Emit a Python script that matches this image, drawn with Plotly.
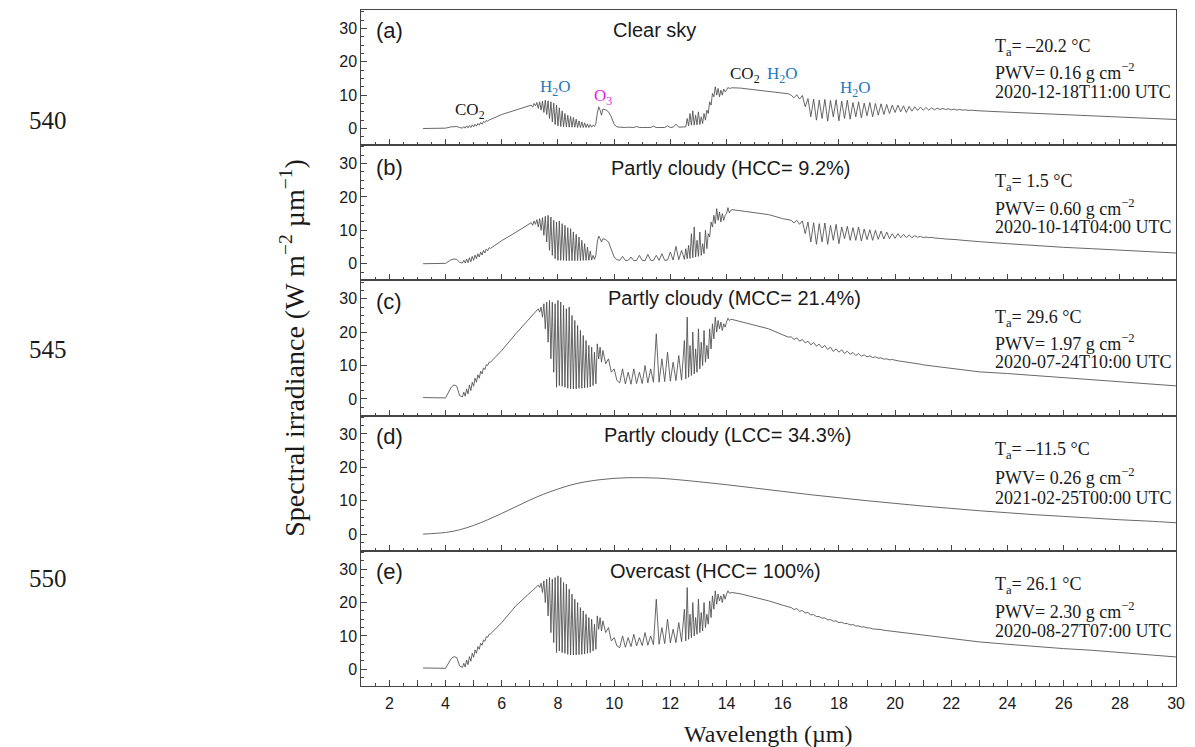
import plotly.graph_objects as go

# ---------------- data ----------------
# common wavelength grid (µm) for panels a, b, c, e
wl = [
    3.2, 3.6, 4.0, 4.2, 4.3, 4.4, 4.5, 4.6,
    4.65, 4.7, 4.75, 4.8, 4.85, 4.9, 4.95, 5.0, 5.05, 5.1, 5.15, 5.2, 5.25, 5.3, 5.35, 5.4, 5.45, 5.5, 5.55, 5.6,
    6.0, 6.5, 7.0,
    7.05, 7.1, 7.15, 7.2, 7.25, 7.3, 7.35, 7.4, 7.45, 7.5,
    7.55, 7.6, 7.65, 7.7, 7.75, 7.8, 7.85, 7.9, 7.95, 8.0,
    8.05, 8.1, 8.15, 8.2, 8.25, 8.3, 8.35, 8.4, 8.45, 8.5,
    8.55, 8.6, 8.65, 8.7, 8.75, 8.8, 8.85, 8.9, 8.95, 9.0,
    9.05, 9.1, 9.15, 9.2, 9.25, 9.3,
    9.35, 9.4, 9.45, 9.5, 9.55, 9.6, 9.7, 9.8, 9.9, 10.0, 10.1, 10.2,
    10.3, 10.4, 10.5, 10.6, 10.7, 10.8, 10.9, 11.0, 11.1, 11.2, 11.3, 11.4, 11.5, 11.6, 11.7, 11.8, 11.9, 12.0,
    12.1, 12.2, 12.3, 12.4, 12.5,
    12.55, 12.6, 12.65, 12.7, 12.75, 12.8, 12.85, 12.9, 12.95, 13.0,
    13.05, 13.1, 13.15, 13.2, 13.25, 13.3, 13.35, 13.4, 13.45, 13.5,
    13.55, 13.6, 13.65, 13.7, 13.75, 13.8, 13.85, 13.9, 13.95, 14.0,
    14.05, 14.1, 14.15, 14.2,
    14.5, 15.0, 15.5, 16.0, 16.2,
    16.3, 16.4, 16.5, 16.6, 16.7, 16.8, 16.9, 17.0, 17.1, 17.2,
    17.3, 17.4, 17.5, 17.6, 17.7, 17.8, 17.9, 18.0, 18.1, 18.2,
    18.3, 18.4, 18.5, 18.6, 18.7, 18.8, 18.9, 19.0, 19.1, 19.2,
    19.3, 19.4, 19.5, 19.6, 19.7, 19.8, 19.9, 20.0, 20.1, 20.2,
    20.3, 20.4, 20.5, 20.6, 20.7, 20.8, 20.9, 21.0, 21.1, 21.2,
    21.3, 21.4, 21.5, 21.6, 21.7, 21.8, 21.9, 22.0, 22.1, 22.2,
    22.3, 22.4, 22.5, 22.6, 22.7, 22.8, 22.9, 23.0,
    24.0, 25.0, 26.0, 27.0, 28.0, 29.0, 30.0,
]

# (a) Clear sky
irr_a = [
    0.0, 0.0, 0.1, 0.5, 0.6, 0.6, 0.3, 0.1,
    0.6, 0.1, 0.8, 0.2, 0.9, 0.3, 1.1, 0.5, 1.3, 0.7, 1.5, 1.0, 1.8, 1.3, 2.1, 1.8, 2.4, 2.2, 2.6, 2.7,
    4.2, 5.6, 6.9,
    7.0, 6.4, 7.5, 6.8, 7.8, 6.0, 8.0, 5.5, 8.2, 4.8,
    8.5, 4.2, 8.3, 3.0, 8.0, 2.0, 7.6, 1.2, 7.0, 0.8,
    6.2, 0.6, 5.3, 0.5, 4.5, 0.5, 4.0, 0.4, 3.6, 0.4,
    3.3, 0.4, 2.8, 0.3, 2.3, 0.3, 2.0, 0.3, 1.7, 0.3,
    1.4, 0.3, 1.2, 0.4, 1.0, 0.6,
    1.5, 4.5, 6.5, 5.5, 4.0, 5.8, 5.6, 5.0, 3.5, 1.2, 0.5, 0.4,
    0.3, 0.3, 0.4, 0.3, 0.3, 0.6, 0.3, 0.3, 0.4, 0.3, 0.3, 0.7, 0.3, 0.3, 0.4, 0.3, 0.8, 0.3,
    0.4, 1.3, 0.4, 0.4, 0.6,
    0.5, 3.0, 0.8, 4.5, 1.0, 5.3, 1.0, 4.0, 1.1, 5.0,
    1.2, 3.5, 1.5, 4.5, 2.5, 5.5, 4.5, 8.0, 7.0, 10.5,
    9.5, 12.5, 10.0, 12.0, 9.5, 11.5, 10.0, 11.8, 11.0, 11.5,
    12.3, 12.0, 12.2, 12.2,
    12.1, 11.6, 11.2, 10.7, 10.4,
    10.0, 9.2, 10.1, 8.8, 9.9, 6.5, 9.0, 3.5, 8.8, 2.5,
    8.5, 3.0, 8.7, 2.2, 8.4, 3.5, 8.6, 2.3, 8.2, 3.0,
    8.5, 2.8, 7.8, 3.5, 8.0, 3.2, 7.6, 3.8, 7.8, 3.5,
    7.5, 4.0, 7.4, 4.2, 7.2, 4.5, 7.0, 4.8, 7.0, 5.0,
    6.8, 4.8, 6.6, 5.2, 6.5, 5.4, 6.4, 5.5, 6.3, 5.5,
    6.2, 5.6, 6.1, 5.7, 6.0, 5.7, 5.9, 5.6, 5.8, 5.5,
    5.7, 5.5, 5.6, 5.4, 5.5, 5.4, 5.4, 5.3,
    4.9, 4.5, 4.1, 3.7, 3.4, 3.0, 2.7,
]

# (b) Partly cloudy (HCC= 9.2%)
irr_b = [
    0.0, 0.0, 0.1, 1.2, 1.4, 1.3, 0.4, 0.2,
    1.0, 0.2, 1.4, 0.3, 1.8, 0.6, 2.2, 1.0, 2.6, 1.5, 3.0, 2.0, 3.5, 2.6, 4.0, 3.2, 4.4, 3.9, 4.8, 4.6,
    6.9, 9.4, 12.0,
    12.3, 11.5, 12.8, 11.8, 13.2, 11.0, 13.5, 10.0, 13.8, 8.5,
    14.2, 6.5, 14.5, 4.0, 14.0, 2.5, 13.0, 1.5, 12.5, 1.0,
    12.8, 1.0, 12.0, 1.0, 11.5, 0.9, 10.8, 0.9, 10.5, 0.9,
    9.5, 0.9, 8.8, 0.9, 8.0, 0.9, 7.0, 1.0, 6.0, 1.0,
    5.0, 1.0, 3.8, 1.1, 2.5, 1.3,
    2.5, 6.5, 8.3, 7.5, 6.5, 7.5, 7.2, 6.5, 4.5, 2.0, 1.2, 1.0,
    2.2, 1.0, 1.0, 2.0, 0.9, 1.0, 2.5, 1.0, 0.9, 2.8, 1.0, 1.0, 2.5, 1.0, 3.0, 1.0, 1.1, 3.5,
    1.1, 5.2, 1.2, 4.0, 1.3,
    4.5, 1.5, 5.5, 1.6, 9.0, 1.8, 11.0, 2.0, 7.0, 2.2,
    9.5, 2.5, 6.0, 3.0, 10.0, 4.5, 9.0, 8.0, 12.5, 11.0,
    14.5, 12.0, 16.5, 13.0, 15.5, 12.5, 15.0, 13.0, 14.5, 15.0,
    16.8, 15.2, 16.0, 16.2,
    15.9, 15.3, 14.7, 13.5, 13.1,
    13.0, 12.2, 13.0, 11.8, 12.8, 9.0, 12.5, 6.5, 12.3, 5.8,
    12.0, 6.5, 12.2, 5.8, 11.5, 7.0, 11.8, 6.0, 11.0, 7.5,
    11.2, 7.0, 10.8, 7.0, 11.0, 6.8, 10.4, 7.2, 10.2, 7.0,
    10.0, 7.3, 9.8, 7.4, 9.5, 7.5, 9.0, 7.6, 9.0, 7.8,
    8.8, 7.8, 8.6, 7.8, 8.4, 7.9, 8.2, 7.8, 8.0, 7.8,
    7.9, 7.7, 7.7, 7.6, 7.5, 7.4, 7.4, 7.3, 7.2, 7.2,
    7.1, 7.0, 7.0, 6.9, 6.8, 6.8, 6.7, 6.6,
    6.0, 5.4, 4.9, 4.5, 4.1, 3.6, 3.2,
]

# (c) Partly cloudy (MCC= 21.4%)
irr_c = [
    0.4, 0.3, 0.3, 3.5, 4.2, 3.8, 1.0, 0.6,
    2.0, 0.8, 3.0, 1.5, 4.2, 2.5, 5.0, 3.8, 6.2, 5.0, 7.2, 6.2, 8.3, 7.5, 9.3, 8.8, 10.3, 10.0, 11.0, 11.0,
    14.5, 19.5, 24.0,
    24.6, 25.0, 25.5, 26.0, 26.5, 27.0, 26.0, 27.5, 24.5, 28.5,
    21.0, 29.0, 17.0, 29.5, 12.0, 29.0, 8.0, 28.5, 3.5, 29.5,
    4.0, 29.0, 3.8, 28.0, 3.5, 27.0, 3.2, 27.5, 3.0, 25.0,
    3.0, 23.5, 3.0, 22.0, 3.2, 20.5, 3.2, 19.0, 3.3, 17.5,
    3.4, 16.0, 3.6, 15.5, 4.0, 14.0,
    4.5, 16.5, 12.0, 15.5, 11.0, 14.5, 10.5, 12.0, 8.0, 9.0, 5.5, 4.8,
    9.0, 4.5, 8.0, 4.4, 9.0, 4.6, 8.0, 4.6, 10.0, 4.8, 9.0, 5.0, 19.5, 5.0, 12.0, 5.2, 14.0, 5.3,
    11.0, 5.5, 13.0, 5.6, 17.5,
    6.0, 24.5, 6.5, 16.0, 7.0, 20.0, 7.5, 15.0, 8.0, 21.0,
    9.0, 17.0, 10.0, 20.5, 11.0, 16.0, 12.0, 21.0, 15.0, 22.5,
    18.0, 24.5, 20.0, 23.5, 21.0, 23.0, 20.5, 22.5, 21.5, 23.0,
    24.2, 23.5, 23.8, 23.8,
    23.2, 22.2, 21.0, 19.2, 18.5,
    18.6, 17.8, 18.3, 17.3, 17.8, 16.8, 17.3, 16.2, 16.9, 15.8,
    16.4, 15.3, 16.0, 14.8, 15.5, 14.2, 15.0, 14.0, 14.7, 13.6,
    14.3, 13.4, 13.9, 13.0, 13.6, 12.8, 13.2, 12.6, 12.9, 12.4,
    12.6, 12.2, 12.3, 11.9, 12.0, 11.7, 11.8, 11.5, 11.4, 11.3,
    11.2, 11.0, 10.9, 10.8, 10.6, 10.5, 10.4, 10.2, 10.1, 10.0,
    9.9, 9.7, 9.6, 9.5, 9.4, 9.3, 9.2, 9.1, 9.0, 8.9,
    8.8, 8.7, 8.6, 8.5, 8.4, 8.3, 8.2, 8.1,
    7.6, 7.0, 6.4, 5.8, 5.1, 4.5, 3.9,
]

# (d) Partly cloudy (LCC= 34.3%) - smooth curve
wl_d = [3.2, 4.0, 4.5, 5.0, 5.5, 6.0, 6.5, 7.0, 7.5, 8.0, 8.5, 9.0, 9.5, 10.0, 10.5, 11.0,
        11.5, 12.0, 13.0, 14.0, 15.0, 16.0, 17.0, 18.0, 19.0, 20.0, 21.0, 22.0, 23.0,
        24.0, 25.0, 26.0, 27.0, 28.0, 29.0, 30.0]
irr_d = [0.0, 0.5, 1.3, 2.6, 4.3, 6.2, 8.2, 10.2, 12.0, 13.5, 14.8, 15.7, 16.3, 16.7, 16.9, 16.9,
         16.8, 16.5, 15.7, 14.8, 13.8, 12.8, 11.8, 10.9, 10.0, 9.2, 8.4, 7.7, 7.0,
         6.4, 5.8, 5.3, 4.8, 4.3, 3.9, 3.4]

# (e) Overcast (HCC= 100%)
irr_e = [
    0.4, 0.3, 0.3, 3.2, 3.8, 3.5, 1.0, 0.6,
    1.8, 0.7, 2.8, 1.4, 3.8, 2.4, 4.8, 3.6, 5.8, 4.8, 6.8, 6.0, 7.8, 7.2, 8.8, 8.4, 9.8, 9.6, 10.5, 10.6,
    14.0, 19.0, 23.0,
    23.3, 23.7, 24.0, 24.4, 24.8, 25.2, 24.5, 25.8, 23.0, 26.5,
    20.0, 27.0, 16.0, 27.5, 11.0, 27.0, 8.0, 27.5, 5.0, 28.0,
    5.5, 27.5, 5.0, 26.0, 4.8, 25.5, 4.5, 24.0, 4.3, 22.5,
    4.3, 21.0, 4.3, 20.0, 4.4, 18.5, 4.5, 17.5, 4.6, 16.5,
    4.8, 15.5, 5.0, 15.0, 5.5, 13.5,
    6.0, 16.0, 12.0, 15.5, 11.5, 14.5, 11.0, 12.5, 8.5, 9.5, 7.0, 6.5,
    10.0, 6.6, 9.5, 6.8, 10.5, 7.0, 9.5, 7.1, 11.0, 7.2, 10.0, 7.4, 21.0, 7.5, 12.5, 7.7, 15.0, 7.9,
    12.0, 8.0, 14.0, 8.3, 18.0,
    8.5, 24.5, 9.0, 16.5, 9.5, 20.0, 10.0, 15.5, 10.5, 21.0,
    11.0, 17.0, 11.5, 20.0, 12.5, 16.5, 13.5, 20.5, 15.5, 22.0,
    18.0, 23.5, 19.5, 22.5, 20.5, 22.0, 20.0, 22.5, 21.0, 22.5,
    23.5, 22.8, 23.0, 23.0,
    22.6, 21.6, 20.5, 19.2, 18.7,
    18.5, 17.9, 18.2, 17.4, 17.6, 16.9, 17.0, 16.3, 16.4, 15.8,
    15.8, 15.3, 15.4, 14.8, 14.9, 14.4, 14.5, 14.0, 14.1, 13.7,
    13.7, 13.3, 13.4, 13.0, 13.0, 12.7, 12.7, 12.4, 12.4, 12.1,
    12.1, 11.9, 11.9, 11.7, 11.6, 11.5, 11.4, 11.3, 11.2, 11.1,
    11.0, 10.8, 10.7, 10.6, 10.5, 10.4, 10.3, 10.2, 10.1, 10.0,
    9.9, 9.8, 9.7, 9.6, 9.5, 9.4, 9.3, 9.2, 9.1, 9.0,
    8.9, 8.8, 8.7, 8.6, 8.5, 8.4, 8.3, 8.2,
    7.5, 6.8, 6.2, 5.7, 5.0, 4.4, 3.7,
]

panel_letters = ["(a)", "(b)", "(c)", "(d)", "(e)"]
panel_titles = ["Clear sky", "Partly cloudy (HCC= 9.2%)", "Partly cloudy (MCC= 21.4%)",
                "Partly cloudy (LCC= 34.3%)", "Overcast (HCC= 100%)"]
temps = ["–20.2", "1.5", "29.6", "–11.5", "26.1"]
pwvs = ["0.16", "0.60", "1.97", "0.26", "2.30"]
stamps = ["2020-12-18T11:00 UTC", "2020-10-14T04:00 UTC", "2020-07-24T10:00 UTC",
          "2021-02-25T00:00 UTC", "2020-08-27T07:00 UTC"]
y_ticks = [0, 10, 20, 30]
x_ticks = list(range(1, 31))
line_numbers = ["540", "545", "550"]

# ---------------- layout helpers ----------------
W, H = 1195, 747
def fx(p):
    return p / W
def fy(p):
    return 1 - p / H

X0, X1 = 364, 1185
TOP, PH = 10, 135.2
SANS = "Liberation Sans, Arial, sans-serif"
SERIF = "Liberation Serif, Times New Roman, serif"
AX = "#444444"
TXT = "#1a1a1a"

fig = go.Figure()
xs = [wl, wl, wl, wl_d, wl]
ys = [irr_a, irr_b, irr_c, irr_d, irr_e]
layout = {}
for i in range(5):
    k = "" if i == 0 else str(i + 1)
    n = min(len(xs[i]), len(ys[i]))
    fig.add_trace(go.Scatter(
        x=xs[i][:n], y=ys[i][:n], mode="lines",
        line=dict(color="#4d4d4d", width=0.85, shape="spline" if i == 3 else "linear"),
        xaxis="x" + k, yaxis="y" + k, showlegend=False, hoverinfo="skip"))
    top = TOP + i * PH
    layout["xaxis" + k] = dict(
        domain=[fx(X0), fx(X1)], anchor="y" + k, range=[1, 30],
        showline=True, linecolor=AX, linewidth=1, mirror=True,
        ticks="inside", ticklen=6, tickwidth=1, tickcolor=AX,
        tickvals=x_ticks, ticktext=[str(v) if v % 2 == 0 else "" for v in x_ticks],
        minor=dict(ticks="inside", ticklen=3, tickwidth=1, tickcolor=AX, dtick=0.5, tick0=0),
        showgrid=False, zeroline=False, showticklabels=(i == 4),
        ticklabelstandoff=3,
        tickfont=dict(family=SANS, size=16, color=TXT))
    layout["yaxis" + k] = dict(
        domain=[fy(top + PH), fy(top)], anchor="x" + k, range=[-5, 35.5],
        showline=True, linecolor=AX, linewidth=1, mirror=True,
        ticks="inside", ticklen=6, tickwidth=1, tickcolor=AX,
        tickvals=y_ticks,
        minor=dict(ticks="inside", ticklen=3, tickwidth=1, tickcolor=AX, dtick=2.5, tick0=0),
        showgrid=False, zeroline=False,
        tickfont=dict(family=SANS, size=16, color=TXT))

ann = []
def add(text, x, y, size, family, color=TXT, xanchor="center", angle=0):
    ann.append(dict(text=text, x=fx(x), y=fy(y), xref="paper", yref="paper",
                    xanchor=xanchor, yanchor="middle", showarrow=False, textangle=angle,
                    font=dict(family=family, size=size, color=color)))

title_pos = [(659, 30), (737, 168), (740, 298), (733, 435), (721, 571)]
letter_y = [30, 167, 302, 437, 571]
info_y = [(47, 72, 92), (182, 207, 227), (318, 343, 362), (450, 476, 498), (585, 610, 631)]
for i in range(5):
    add(panel_letters[i], 377, letter_y[i], 22, SANS, xanchor="left")
    add(panel_titles[i], title_pos[i][0], title_pos[i][1], 20, SANS)
    add("T<sub>a</sub>= " + temps[i] + " °C", 1001, info_y[i][0], 18, SERIF, xanchor="left")
    add("PWV= " + pwvs[i] + " g cm<sup>−2</sup>", 1001, info_y[i][1], 18, SERIF, xanchor="left")
    add(stamps[i], 1001, info_y[i][2], 18, SERIF, xanchor="left")

BLUE = "#1f78c0"
MAG = "#e31ee3"
add("CO<sub>2</sub>", 474, 111, 17, SERIF)
add("H<sub>2</sub>O", 560, 88, 17, SERIF, color=BLUE)
add("O<sub>3</sub>", 608, 97, 17, SERIF, color=MAG)
add("CO<sub>2</sub>", 751, 75, 17, SERIF)
add("H<sub>2</sub>O", 788, 75, 17, SERIF, color=BLUE)
add("H<sub>2</sub>O", 862, 89, 17, SERIF, color=BLUE)

add("Wavelength (µm)", 774.5, 734, 24, SERIF)
add("Spectral irradiance (W m<sup>−2</sup> µm<sup>−1</sup>)", 294, 348, 28, SERIF, angle=-90)

for t, yy in zip(line_numbers, [120, 349, 578]):
    add(t, 48, yy, 25, SERIF)

fig.update_layout(
    width=W, height=H, autosize=False,
    margin=dict(l=0, r=0, t=0, b=0),
    paper_bgcolor="white", plot_bgcolor="white",
    annotations=ann, **layout)

fig.write_html("out.html")
